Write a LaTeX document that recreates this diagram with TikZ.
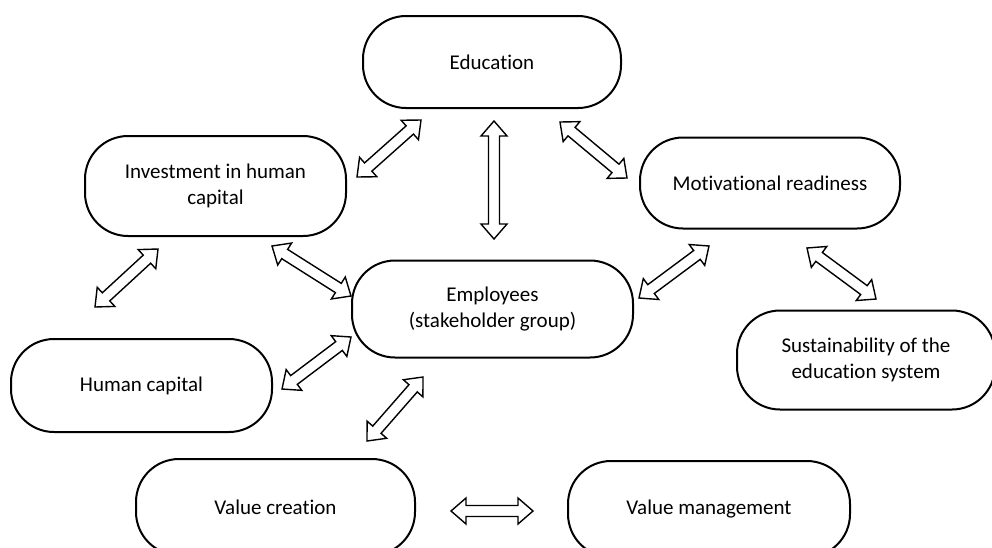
\documentclass[tikz,border=0pt]{standalone}
\usepackage{fontspec}
\setmainfont{Carlito}[Ligatures=CommonOff]
\usetikzlibrary{calc}
\tikzset{
  box/.style={draw, line width=2pt, rounded corners=43pt, align=center,
    font=\fontsize{21}{26.5}\selectfont, inner sep=0pt},
  arr/.style={draw, line width=1.4pt, fill=white, line join=miter},
}
\newcommand\dblarrow[2]{%
  \draw[arr] (#1)
    -- ($(#1)!15pt!(#2)!13pt!90:(#2)$)
    -- ($(#1)!15pt!(#2)!5.5pt!90:(#2)$)
    -- ($(#2)!15pt!(#1)!5.5pt!-90:(#1)$)
    -- ($(#2)!15pt!(#1)!13pt!-90:(#1)$)
    -- (#2)
    -- ($(#2)!15pt!(#1)!13pt!90:(#1)$)
    -- ($(#2)!15pt!(#1)!5.5pt!90:(#1)$)
    -- ($(#1)!15pt!(#2)!5.5pt!-90:(#2)$)
    -- ($(#1)!15pt!(#2)!13pt!-90:(#2)$)
    -- cycle;}
\begin{document}
\begin{tikzpicture}[x=1pt,y=-1pt]
\useasboundingbox (0,0) rectangle (992,547);
\node[box, minimum width=258pt, minimum height=92pt] (edu) at (492,62) {Education};
\node[box, minimum width=261pt, minimum height=100pt] (inv) at (215.5,186) {Investment in human\\capital};
\node[box, minimum width=260pt, minimum height=91pt] (mot) at (770,183) {Motivational readiness};
\node[box, minimum width=281pt, minimum height=97pt] (emp) at (492.5,309) {Employees\\(stakeholder group)};
\node[box, minimum width=258pt, minimum height=99pt] (sus) at (866,360) {Sustainability of the\\education system};
\node[box, minimum width=261pt, minimum height=93pt] (hc) at (141.5,385.5) {Human capital};
\node[box, minimum width=279pt, minimum height=96pt] (vc) at (275.5,507) {Value creation};
\node[box, minimum width=282pt, minimum height=96pt] (vm) at (709,509) {Value management};

\coordinate (a1s) at (421,120); \coordinate (a1e) at (357,177);
\coordinate (a2s) at (494,121); \coordinate (a2e) at (494,239);
\coordinate (a3s) at (560,122); \coordinate (a3e) at (627,178);
\coordinate (a4s) at (158,249); \coordinate (a4e) at (95,307);
\coordinate (a5s) at (272,246); \coordinate (a5e) at (351,296);
\coordinate (a6s) at (709,246); \coordinate (a6e) at (639,298);
\coordinate (a7s) at (807,248); \coordinate (a7e) at (876,299);
\coordinate (a8s) at (351,337); \coordinate (a8e) at (282,389);
\coordinate (a9s) at (423,377); \coordinate (a9e) at (367,441);
\coordinate (a10s) at (451,511); \coordinate (a10e) at (533,511);

\dblarrow{a1s}{a1e}
\dblarrow{a2s}{a2e}
\dblarrow{a3s}{a3e}
\dblarrow{a4s}{a4e}
\dblarrow{a5s}{a5e}
\dblarrow{a6s}{a6e}
\dblarrow{a7s}{a7e}
\dblarrow{a8s}{a8e}
\dblarrow{a9s}{a9e}
\dblarrow{a10s}{a10e}
\end{tikzpicture}
\end{document}
